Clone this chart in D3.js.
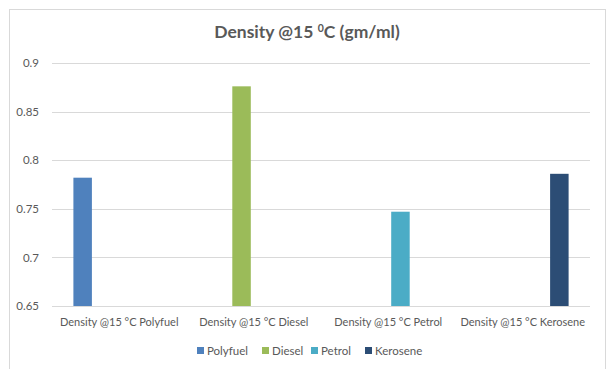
<!DOCTYPE html>
<html>
<head>
<meta charset="utf-8">
<script src="https://cdn.jsdelivr.net/npm/d3@7"></script>
<style>
  html, body { margin: 0; padding: 0; background: #fff; }
  svg { display: block; font-family: Lato, "Open Sans", sans-serif; }
</style>
</head>
<body>
<svg id="chart" width="609" height="369"></svg>
<script>
// Density at 15 °C for each fuel (gm/ml)
const categories = ["Density @15 °C Polyfuel", "Density @15 °C Diesel", "Density @15 °C Petrol", "Density @15 °C Kerosene"];
const seriesNames = ["Polyfuel", "Diesel", "Petrol", "Kerosene"];
const seriesColors = ["#4F81BD", "#9BBB59", "#4BACC6", "#2C4D75"];
// one value per series, each in its own category
const polyfuel = [0.782, null, null, null];
const diesel   = [null, 0.876, null, null];
const petrol   = [null, null, 0.747, null];
const kerosene = [null, null, null, 0.786];
const yTicks = [0.65, 0.7, 0.75, 0.8, 0.85, 0.9];

const seriesValues = [polyfuel, diesel, petrol, kerosene];

const svg = d3.select("#chart");
const W = 609, H = 369;
const textColor = "#595959";
const m = { left: 52, right: 19, top: 63, bottom: 63 };
const plotW = W - m.left - m.right;   // 538
const plotH = H - m.top - m.bottom;

// chart frame
svg.append("rect")
  .attr("x", 9.5).attr("y", 9.5)
  .attr("width", 596).attr("height", 370)
  .attr("fill", "#fff").attr("stroke", "#d9d9d9").attr("stroke-width", 1);

// title with superscript degree marker
const title = svg.append("text")
  .attr("x", 307).attr("y", 38)
  .attr("text-anchor", "middle")
  .attr("fill", textColor)
  .attr("font-size", 17.5).attr("font-weight", "bold");
title.append("tspan").text("Density @15 ");
title.append("tspan").attr("font-size", 10.5).attr("dy", -6.5).text("0");
title.append("tspan").attr("dy", 6.5).text("C (gm/ml)");

const g = svg.append("g").attr("transform", `translate(${m.left},${m.top})`);

const y = d3.scaleLinear().domain([0.65, 0.9]).range([243, 0]);
const x = d3.scaleBand().domain(categories).range([0, plotW]).padding(0);
const xs = d3.scaleBand().domain(seriesNames).range([0, x.bandwidth()])
  .paddingInner(0.242).paddingOuter(0.877);

// gridlines
g.append("g")
  .selectAll("line")
  .data(yTicks)
  .join("line")
  .attr("x1", 0).attr("x2", plotW)
  .attr("y1", d => Math.round(y(d)) + 0.5).attr("y2", d => Math.round(y(d)) + 0.5)
  .attr("stroke", "#d9d9d9").attr("stroke-width", 1);

// y axis labels
const yAxis = d3.axisLeft(y).tickValues(yTicks).tickSize(0).tickPadding(13)
  .tickFormat(d => d3.format("")(+d.toFixed(2)));
g.append("g").call(yAxis)
  .call(a => a.select(".domain").remove())
  .selectAll("text")
  .attr("fill", textColor).attr("font-size", 11.5)
  .attr("font-family", "Lato, 'Open Sans', sans-serif");

// bars
seriesNames.forEach((name, si) => {
  g.append("g")
    .selectAll("rect")
    .data(categories.map((c, ci) => ({ c, v: seriesValues[si][ci] })).filter(d => d.v != null))
    .join("rect")
    .attr("x", d => x(d.c) + xs(name))
    .attr("width", xs.bandwidth())
    .attr("y", d => y(d.v))
    .attr("height", d => y(0.65) - y(d.v))
    .attr("fill", seriesColors[si]);
});

// x axis category labels
const xAxis = d3.axisBottom(x).tickSize(0).tickPadding(12);
g.append("g").attr("transform", `translate(0,${y(0.65)})`).call(xAxis)
  .call(a => a.select(".domain").remove())
  .selectAll("text")
  .attr("fill", textColor).attr("font-size", 11)
  .attr("font-family", "Lato, 'Open Sans', sans-serif");

// legend
const legendX = [197, 262, 311, 365];
const legend = svg.append("g");
seriesNames.forEach((name, i) => {
  legend.append("rect")
    .attr("x", legendX[i]).attr("y", 347)
    .attr("width", 7).attr("height", 7)
    .attr("fill", seriesColors[i]);
  legend.append("text")
    .attr("x", legendX[i] + 10).attr("y", 355)
    .attr("fill", textColor).attr("font-size", 11.5)
    .text(name);
});
</script>
</body>
</html>
